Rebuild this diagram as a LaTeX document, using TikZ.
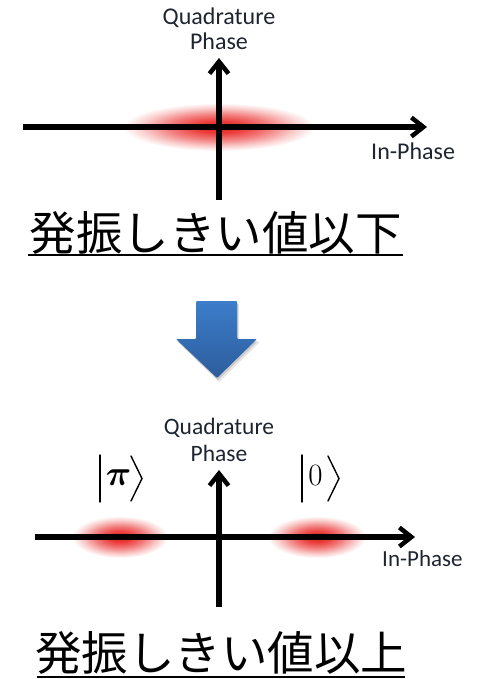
\documentclass[tikz,border=0pt]{standalone}
\usepackage{fontspec}
\usepackage{bm}
\setmainfont{Carlito}
\newfontfamily\cjk{Noto Sans CJK JP}
\newfontfamily\lmr{Latin Modern Roman}
\usetikzlibrary{arrows.meta}
\definecolor{blobred}{HTML}{E8201E}
\definecolor{arrtop}{HTML}{3C7DCA}
\definecolor{arrbot}{HTML}{2C5D9C}
\definecolor{labcol}{HTML}{1E2530}
\pgfdeclareradialshading{blob}{\pgfpoint{0bp}{0bp}}{color(0bp)=(blobred); color(6bp)=(blobred!88!white); color(13bp)=(blobred!58!white); color(20bp)=(blobred!22!white); color(25bp)=(white); color(50bp)=(white)}
\tikzset{
  axisline/.style={line width=6pt, -{Straight Barb[length=12pt,width=19pt,line width=4.5pt]}},
  axlabel/.style={inner sep=0pt, anchor=base, text=labcol, font=\fontsize{24}{28}\selectfont},
  ketsym/.style={inner sep=0pt, anchor=base, font=\fontsize{18}{20}\selectfont},
  ketline/.style={line width=1.4pt, line cap=round, line join=miter},
  jptext/.style={inner sep=0pt, anchor=base, font=\cjk\fontsize{46.5}{50}\selectfont},
  uline/.style={line width=2pt},
}
\begin{document}
\begin{tikzpicture}[x=1pt,y=-1pt]
\useasboundingbox (0,0) rectangle (479,679);
% ---------- top diagram ----------
\shade[shading=blob] (219,127) ellipse (96 and 24);
\coordinate (h1s) at (23,127);
\coordinate (h1e) at (427,127);
\coordinate (v1s) at (219,200);
\coordinate (v1e) at (219,58);
\draw[axisline] (h1s) -- (h1e);
\draw[axisline] (v1s) -- (v1e);
\node[axlabel] (q1) at (219,25) {Quadrature};
\node[axlabel] (p1) at (219,50) {Phase};
\node[axlabel, anchor=base west] (i1) at (371,160) {In-Phase};
\node[jptext] (t1) at (215.5,250) {発振しきい値以下};
\coordinate (u1a) at (28,255);
\coordinate (u1b) at (403,255);
\draw[uline] (u1a) -- (u1b);
% ---------- blue arrow ----------
\fill[black, opacity=0.10] (198,304) -- (239,304) -- (239,342) -- (260,342) -- (219,382) -- (178,342) -- (198,342) -- cycle;
\fill[black, opacity=0.12] (197,303) -- (238,303) -- (238,341) -- (258,341) -- (218,380) -- (177,341) -- (197,341) -- cycle;
\shade[top color=arrtop, bottom color=arrbot, rounded corners=1pt] (196,301) -- (237,301) -- (237,339) -- (257,339) -- (217,378) -- (176,339) -- (196,339) -- cycle;
% ---------- bottom diagram ----------
\shade[shading=blob] (120,537) ellipse (48 and 21);
\shade[shading=blob] (317,537) ellipse (49 and 21);
\coordinate (h2s) at (35,537);
\coordinate (h2e) at (415,537);
\coordinate (v2s) at (219,607);
\coordinate (v2e) at (219,470);
\draw[axisline] (h2s) -- (h2e);
\draw[axisline] (v2s) -- (v2e);
\node[axlabel, font=\fontsize{23.5}{28}\selectfont] (q2) at (219,434) {Quadrature};
\node[axlabel, font=\fontsize{23.5}{28}\selectfont] (p2) at (219,461) {Phase};
\node[axlabel, anchor=base west, font=\fontsize{23}{28}\selectfont] (i2) at (382,566) {In-Phase};
% kets |pi> and |0>
\node[ketsym] (kpi) at (118.5,485) {\scalebox{2.05}{$\bm{\pi}$}};
\draw[ketline] (100,455) -- (100,502);
\draw[ketline] (131,456) -- (142,478.5) -- (131,501);
\node[ketsym, font=\lmr\fontsize{31}{34}\selectfont] (k0) at (315.5,485) {0};
\draw[ketline] (302,455) -- (302,502);
\draw[ketline] (328,456) -- (339,478.5) -- (328,501);
\node[jptext] (t2) at (221,670) {発振しきい値以上};
\coordinate (u2a) at (37,677);
\coordinate (u2b) at (405,677);
\draw[uline] (u2a) -- (u2b);
\end{tikzpicture}
\end{document}
